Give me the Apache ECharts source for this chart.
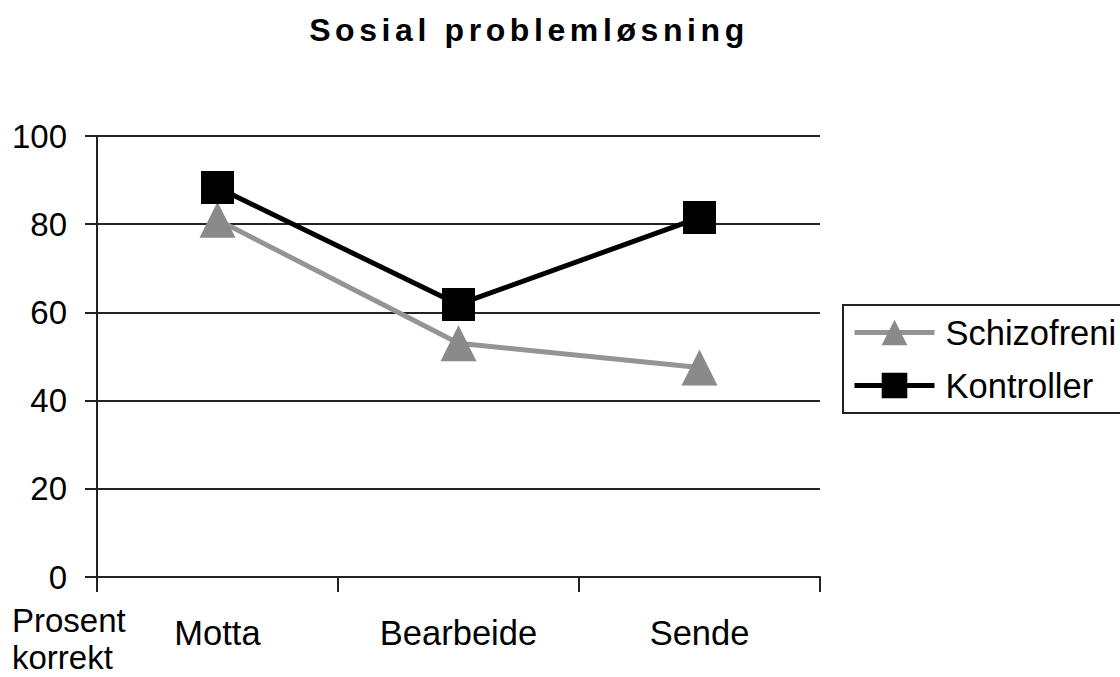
<!DOCTYPE html>
<html>
<head>
<meta charset="utf-8">
<script src="https://cdn.jsdelivr.net/npm/echarts@6/dist/echarts.min.js"></script>
<style>
html, body { margin: 0; padding: 0; background: #fff; }
#chart { width: 1120px; height: 677px; }
#chart svg text[style*="bold"] { letter-spacing: 4.6px; }
</style>
</head>
<body>
<div id="chart"></div>
<script>
const categories = ['Motta', 'Bearbeide', 'Sende'];
const schizofreni = [81, 53, 47.5];
const kontroller = [88.3, 61.8, 81.5];
const yTicks = { min: 0, max: 100, interval: 20 };
const titleText = 'Sosial problemløsning';
const yAxisName = 'Prosent\nkorrekt';

const FONT = "'Liberation Sans', Arial, sans-serif";
const chart = echarts.init(document.getElementById('chart'), null, { renderer: 'svg' });
chart.setOption({
  animation: false,
  backgroundColor: '#ffffff',
  title: {
    text: titleText,
    left: 529, top: 14, padding: 0,
    textAlign: 'center',
    textStyle: { fontFamily: FONT, fontSize: 32, fontWeight: 'bold', color: '#000' }
  },
  grid: { left: 97, right: 300, top: 136, bottom: 100, containLabel: false },
  legend: {
    orient: 'vertical',
    left: 843, top: 305,
    padding: [10, 60, 10, 9],
    itemWidth: 80, itemHeight: 32, itemGap: 18,
    borderColor: '#222', borderWidth: 2,
    lineStyle: { width: 5 },
    textStyle: { fontFamily: FONT, fontSize: 34.5, color: '#000', padding: [0, 0, 0, 6] },
    data: ['Schizofreni', 'Kontroller']
  },
  xAxis: {
    type: 'category',
    data: categories,
    boundaryGap: true,
    axisLine: { lineStyle: { color: '#222', width: 2 } },
    axisTick: { show: true, length: 15, lineStyle: { color: '#222', width: 2 } },
    axisLabel: { fontFamily: FONT, fontSize: 34.5, color: '#000', margin: 38 },
    splitLine: { show: false }
  },
  yAxis: {
    type: 'value',
    min: yTicks.min, max: yTicks.max, interval: yTicks.interval,
    axisLine: { show: true, lineStyle: { color: '#222', width: 2 } },
    axisTick: { show: true, length: 12, lineStyle: { color: '#222', width: 2 } },
    axisLabel: { fontFamily: FONT, fontSize: 33, color: '#000', margin: 30 },
    splitLine: { show: true, lineStyle: { color: '#222', width: 2 } }
  },
  graphic: [{
    type: 'text', left: 12, top: 602,
    style: { text: yAxisName, font: "33px 'Liberation Sans', Arial, sans-serif", fill: '#000', lineHeight: 37 }
  }],
  series: [
    {
      name: 'Schizofreni', type: 'line', data: schizofreni,
      symbol: 'triangle', symbolSize: 36,
      lineStyle: { color: '#949494', width: 5 },
      itemStyle: { color: '#8a8a8a' },
      z: 2
    },
    {
      name: 'Kontroller', type: 'line', data: kontroller,
      symbol: 'rect', symbolSize: 33,
      lineStyle: { color: '#000', width: 5 },
      itemStyle: { color: '#000' },
      z: 3
    }
  ]
});
</script>
</body>
</html>
